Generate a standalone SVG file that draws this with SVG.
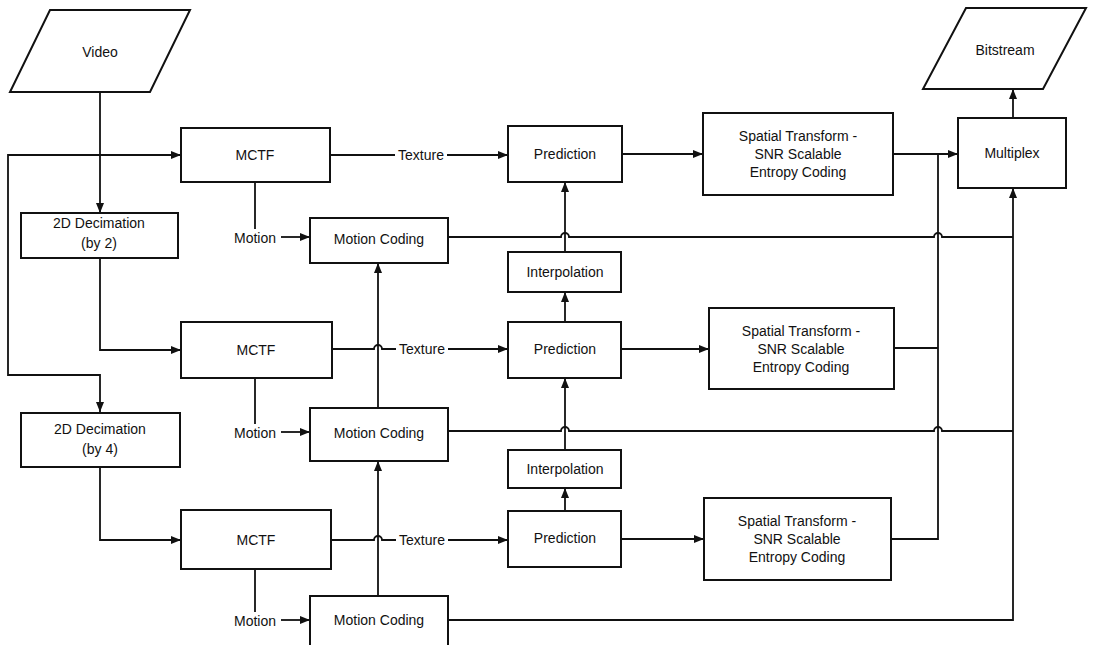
<svg xmlns="http://www.w3.org/2000/svg" width="1106" height="645" viewBox="0 0 1106 645">
<style>
.box{fill:#fff;stroke:#111;stroke-width:2}
.ln{fill:none;stroke:#111;stroke-width:1.8}
.t{font-family:"Liberation Sans",Arial,sans-serif;font-size:14px;fill:#111;text-anchor:middle;dominant-baseline:central}
</style>
<defs>
<marker id="ar" viewBox="0 0 10 8" refX="10" refY="4" markerWidth="10" markerHeight="8" markerUnits="userSpaceOnUse" orient="auto">
<path d="M0,0 L10,4 L0,8 z" fill="#111"/>
</marker>
</defs>
<rect width="1106" height="645" fill="#fff"/>
<g id="connectors">
<path class="ln" d="M100 92 V213" marker-end="url(#ar)"/>
<path class="ln" d="M100 155 H181" marker-end="url(#ar)"/>
<path class="ln" d="M100 155 H8 V375 H100 V412" marker-end="url(#ar)"/>
<path class="ln" d="M100 258 V350 H181" marker-end="url(#ar)"/>
<path class="ln" d="M100 467 V540 H181" marker-end="url(#ar)"/>
<path class="ln" d="M330 155 H395"/>
<path class="ln" d="M447 155 H508" marker-end="url(#ar)"/>
<path class="ln" d="M332 349 H374 A4 4 0 0 1 382 349 H396"/>
<path class="ln" d="M448 349 H508" marker-end="url(#ar)"/>
<path class="ln" d="M331 540 H374 A4 4 0 0 1 382 540 H396"/>
<path class="ln" d="M448 540 H508" marker-end="url(#ar)"/>
<path class="ln" d="M622 154 H703" marker-end="url(#ar)"/>
<path class="ln" d="M621 349 H709" marker-end="url(#ar)"/>
<path class="ln" d="M621 539 H704" marker-end="url(#ar)"/>
<path class="ln" d="M893 154 H958" marker-end="url(#ar)"/>
<path class="ln" d="M894 348 H938"/>
<path class="ln" d="M891 539 H938 V154"/>
<path class="ln" d="M1013 118 V89" marker-end="url(#ar)"/>
<path class="ln" d="M448 237 H561 A4 4 0 0 1 569 237 H934 A4 4 0 0 1 942 237 H1013"/>
<path class="ln" d="M448 431 H561 A4 4 0 0 1 569 431 H934 A4 4 0 0 1 942 431 H1013"/>
<path class="ln" d="M448 620 H1013 V188" marker-end="url(#ar)"/>
<path class="ln" d="M255 182 V229"/>
<path class="ln" d="M281 237 H310" marker-end="url(#ar)"/>
<path class="ln" d="M255 378 V424"/>
<path class="ln" d="M281 432 H310" marker-end="url(#ar)"/>
<path class="ln" d="M255 569 V612"/>
<path class="ln" d="M281 620 H310" marker-end="url(#ar)"/>
<path class="ln" d="M378 408 V263" marker-end="url(#ar)"/>
<path class="ln" d="M378 596 V461" marker-end="url(#ar)"/>
<path class="ln" d="M565 322 V292" marker-end="url(#ar)"/>
<path class="ln" d="M565 252 V182" marker-end="url(#ar)"/>
<path class="ln" d="M565 511 V488" marker-end="url(#ar)"/>
<path class="ln" d="M565 450 V378" marker-end="url(#ar)"/>
<text class="t" x="421" y="155">Texture</text>
<text class="t" x="422" y="349">Texture</text>
<text class="t" x="422" y="540">Texture</text>
<text class="t" x="255" y="238">Motion</text>
<text class="t" x="255" y="433">Motion</text>
<text class="t" x="255" y="621">Motion</text>
</g>
<g id="video">
<polygon class="box" points="50,10 190,10 150,92 10,92"/>
<text class="t" x="100" y="52">Video</text>
</g>
<g id="bitstream">
<polygon class="box" points="966,8 1086,8 1043,89 923,89"/>
<text class="t" x="1005" y="50">Bitstream</text>
</g>
<g id="dec1">
<rect class="box" x="21" y="213" width="157" height="45"/>
<text class="t" x="99" y="223">2D Decimation</text>
<text class="t" x="99" y="243">(by 2)</text>
</g>
<g id="dec2">
<rect class="box" x="21" y="413" width="159" height="54"/>
<text class="t" x="100" y="429">2D Decimation</text>
<text class="t" x="100" y="449">(by 4)</text>
</g>
<g id="mctf1">
<rect class="box" x="181" y="128" width="149" height="54"/>
<text class="t" x="255" y="155">MCTF</text>
</g>
<g id="mctf2">
<rect class="box" x="181" y="322" width="151" height="56"/>
<text class="t" x="256" y="350">MCTF</text>
</g>
<g id="mctf3">
<rect class="box" x="181" y="510" width="150" height="59"/>
<text class="t" x="256" y="540">MCTF</text>
</g>
<g id="mc1">
<rect class="box" x="310" y="218" width="138" height="45"/>
<text class="t" x="379" y="239">Motion Coding</text>
</g>
<g id="mc2">
<rect class="box" x="310" y="408" width="138" height="53"/>
<text class="t" x="379" y="433">Motion Coding</text>
</g>
<g id="mc3">
<rect class="box" x="310" y="596" width="138" height="55"/>
<text class="t" x="379" y="620">Motion Coding</text>
</g>
<g id="pred1">
<rect class="box" x="508" y="126" width="114" height="56"/>
<text class="t" x="565" y="154">Prediction</text>
</g>
<g id="pred2">
<rect class="box" x="508" y="322" width="113" height="56"/>
<text class="t" x="565" y="349">Prediction</text>
</g>
<g id="pred3">
<rect class="box" x="508" y="511" width="113" height="56"/>
<text class="t" x="565" y="538">Prediction</text>
</g>
<g id="interp1">
<rect class="box" x="508" y="252" width="113" height="40"/>
<text class="t" x="565" y="272">Interpolation</text>
</g>
<g id="interp2">
<rect class="box" x="508" y="450" width="113" height="38"/>
<text class="t" x="565" y="469">Interpolation</text>
</g>
<g id="st1">
<rect class="box" x="703" y="113" width="190" height="82"/>
<text class="t" x="798" y="136">Spatial Transform -</text>
<text class="t" x="798" y="154">SNR Scalable</text>
<text class="t" x="798" y="172">Entropy Coding</text>
</g>
<g id="st2">
<rect class="box" x="709" y="308" width="185" height="81"/>
<text class="t" x="801" y="331">Spatial Transform -</text>
<text class="t" x="801" y="349">SNR Scalable</text>
<text class="t" x="801" y="367">Entropy Coding</text>
</g>
<g id="st3">
<rect class="box" x="704" y="498" width="187" height="82"/>
<text class="t" x="797" y="521">Spatial Transform -</text>
<text class="t" x="797" y="539">SNR Scalable</text>
<text class="t" x="797" y="557">Entropy Coding</text>
</g>
<g id="multiplex">
<rect class="box" x="958" y="118" width="108" height="70"/>
<text class="t" x="1012" y="153">Multiplex</text>
</g>
</svg>
